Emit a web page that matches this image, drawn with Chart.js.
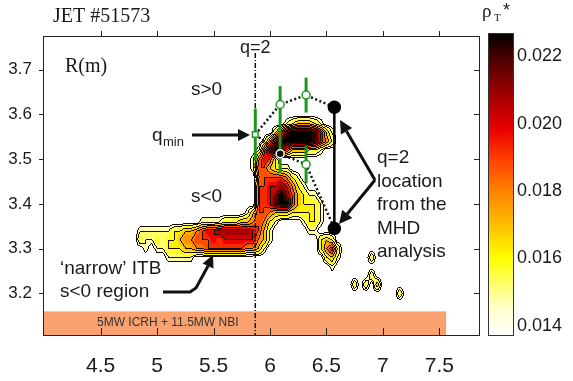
<!DOCTYPE html>
<html lang="en">
<head>
<meta charset="UTF-8">
<title>JET #51573 - rho_T*</title>
<script src="https://cdn.jsdelivr.net/npm/chart.js"></script>
<style>
  html, body { margin: 0; padding: 0; background: #ffffff; }
  #wrap { position: relative; width: 573px; height: 381px; }
</style>
</head>
<body>
<div id="wrap"><canvas id="rhoChart" width="573" height="381"></canvas></div>
<script>
// axis ticks
const xTicks = [4.5, 5, 5.5, 6, 6.5, 7, 7.5];
const yTicks = [3.2, 3.3, 3.4, 3.5, 3.6, 3.7];
const cbTicks = [0.014, 0.016, 0.018, 0.020, 0.022];

// rho_T* map.
// columns: t = 4.80 .. 7.20 step 0.05, rows: R = 3.60 .. 3.18 step -0.02
// each row = list of [first column, digits]; rho = 0.014 + 0.001 * digit
const tStart = 4.80, tStep = 0.05, rhoCols = 49;
const rStart = 3.60, rStep = 0.02;
const rhoBase = 0.014, rhoUnit = 0.001;
const rhoRows = [
  [],
  [[27, '1233321']],
  [[25, '25899998631']],
  [[23, '1489999998642']],
  [[22, '158975333221']],
  [[21, '14652']],
  [[21, '1553211']],
  [[22, '45555421']],
  [[22, '556676421']],
  [[22, '55679753211']],
  [[22, '556899532221']],
  [[20, '13554333222221']],
  [[12, '1111222334542100001221']],
  [[1, '111111223345667777776531'], [31, '11']],
  [[1, '211212234455565666666431'], [33, '232']],
  [[2, '1011222334455555554431'], [33, '2462']],
  [[6, '11111'], [34, '231'], [42, '2']],
  [[35, '1']],
  [[42, '2']],
  [[39, '202'], [43, '3']],
  [[47, '2']],
  []
];
// filled bands and drawn contour lines
const contourLevels = [0.0145, 0.0150, 0.0155, 0.0160, 0.0165, 0.0170, 0.0175, 0.0180, 0.0185,
                       0.0190, 0.0195, 0.0200, 0.0205, 0.0210, 0.0215, 0.0220, 0.0225];
const lineLevels = [0.0145, 0.015, 0.016, 0.017, 0.018, 0.019, 0.020, 0.021, 0.022];

// colour scale (value -> rgb)
const cmapVals = [0.0137, 0.0145, 0.0150, 0.0160, 0.0170, 0.0180, 0.0190, 0.0198, 0.0210, 0.0220, 0.0227];
const cmapRGB = [[255,255,255],[255,255,205],[255,255,140],[255,255,0],[255,190,0],[255,130,0],
                 [255,60,0],[235,0,0],[150,0,0],[70,0,0],[0,0,0]];
const cbMin = 0.0137, cbMax = 0.0226, cbTop = 0.0227;

// q profile (time, R)
const qTime = [5.87, 6.09, 6.32];
const qUpper = [3.555, 3.622, 3.643];
const qLower = [3.555, 3.512, 3.488];
const errTime = [5.87, 6.09, 6.32, 6.32];
const errLow = [3.497, 3.469, 3.604, 3.446];
const errHigh = [3.613, 3.663, 3.682, 3.529];
const mhdTime = 6.57;
const mhdR = [3.616, 3.345];
const q2Time = 5.87;
const q2Span = [3.737, 3.105];
const heatTime = [3.99, 7.56];
const heatR = [3.105, 3.16];

const rhoGrid = rhoRows.map(segs => {
  const row = new Array(rhoCols).fill(0);
  segs.forEach(([c, s]) => { for (let k = 0; k < s.length; k++) row[c + k] = +s[k]; });
  return row;
});

function rhoAt(t, r) {
  const gi = (t - tStart) / tStep, gj = (rStart - r) / rStep;
  if (gi < 0 || gj < 0 || gi > rhoCols - 1 || gj > rhoGrid.length - 1) return 0;
  const i0 = Math.min(Math.floor(gi), rhoCols - 2), j0 = Math.min(Math.floor(gj), rhoGrid.length - 2);
  const fi = gi - i0, fj = gj - j0;
  const a = rhoGrid[j0][i0], b = rhoGrid[j0][i0 + 1], c = rhoGrid[j0 + 1][i0], d = rhoGrid[j0 + 1][i0 + 1];
  return rhoBase + rhoUnit * ((a * (1 - fi) + b * fi) * (1 - fj) + (c * (1 - fi) + d * fi) * fj);
}

function cmap(v) {
  if (v <= cmapVals[0]) return cmapRGB[0];
  for (let k = 1; k < cmapVals.length; k++) {
    if (v <= cmapVals[k]) {
      const f = (v - cmapVals[k - 1]) / (cmapVals[k] - cmapVals[k - 1]);
      return cmapRGB[k - 1].map((c, n) => Math.round(c + (cmapRGB[k][n] - c) * f));
    }
  }
  return cmapRGB[cmapRGB.length - 1];
}

const bandRGB = [null].concat(contourLevels.map(l => cmap(l + 0.00025)));

function countBelow(levels, v) {
  let k = 0;
  while (k < levels.length && v >= levels[k]) k++;
  return k;
}

// filled contours + heating band, under the datasets
const contourPlugin = {
  id: 'contour',
  beforeDatasetsDraw(chart) {
    const { ctx, chartArea: a, scales: { x, y } } = chart;
    const left = Math.round(a.left), top = Math.round(a.top);
    const w = Math.round(a.right) - left, h = Math.round(a.bottom) - top;
    const lev = new Int8Array(w * h), line = new Int8Array(w * h);
    for (let py = 0; py < h; py++) {
      const r = y.getValueForPixel(top + py + 0.5);
      for (let px = 0; px < w; px++) {
        const v = rhoAt(x.getValueForPixel(left + px + 0.5), r);
        lev[py * w + px] = countBelow(contourLevels, v);
        line[py * w + px] = countBelow(lineLevels, v);
      }
    }
    const off = document.createElement('canvas');
    off.width = w; off.height = h;
    const octx = off.getContext('2d');
    const img = octx.createImageData(w, h);
    for (let py = 0; py < h; py++) {
      for (let px = 0; px < w; px++) {
        const n = py * w + px, k = lev[n], m = line[n];
        if (!k) continue;
        const edge = (px > 0 && line[n - 1] < m) || (px < w - 1 && line[n + 1] < m) ||
                     (py > 0 && line[n - w] < m) || (py < h - 1 && line[n + w] < m);
        const c = edge ? [20, 10, 0] : bandRGB[k];
        img.data[n * 4] = c[0]; img.data[n * 4 + 1] = c[1]; img.data[n * 4 + 2] = c[2]; img.data[n * 4 + 3] = 255;
      }
    }
    octx.putImageData(img, 0, 0);
    ctx.drawImage(off, left, top);

    // heating band
    const bx0 = x.getPixelForValue(heatTime[0]), bx1 = x.getPixelForValue(heatTime[1]);
    const by0 = y.getPixelForValue(heatR[1]), by1 = y.getPixelForValue(heatR[0]);
    ctx.save();
    ctx.fillStyle = '#faa26f';
    ctx.fillRect(bx0, by0, bx1 - bx0, by1 - by0);
    ctx.fillStyle = '#333';
    ctx.font = '12px "Liberation Sans", Arial, sans-serif';
    ctx.textBaseline = 'alphabetic';
    ctx.fillText('5MW ICRH + 11.5MW NBI', 97, 326);
    ctx.restore();
  }
};

function arrow(ctx, pts, head, half) {
  const n = pts.length;
  const [tx, ty] = pts[n - 1], [px, py] = pts[n - 2];
  const ang = Math.atan2(ty - py, tx - px);
  const bx = tx - head * Math.cos(ang), by = ty - head * Math.sin(ang);
  ctx.beginPath();
  ctx.moveTo(pts[0][0], pts[0][1]);
  for (let i = 1; i < n - 1; i++) ctx.lineTo(pts[i][0], pts[i][1]);
  ctx.lineTo(bx, by);
  ctx.stroke();
  ctx.beginPath();
  ctx.moveTo(tx, ty);
  ctx.lineTo(bx + half * Math.sin(ang), by - half * Math.cos(ang));
  ctx.lineTo(bx - half * Math.sin(ang), by + half * Math.cos(ang));
  ctx.closePath();
  ctx.fill();
}

// frame, tick marks, colour bar and annotations
const decorPlugin = {
  id: 'decor',
  afterDatasetsDraw(chart) {
    const { ctx, chartArea: a, scales: { x, y, cb } } = chart;
    ctx.save();
    ctx.strokeStyle = '#222';
    ctx.lineWidth = 1;
    ctx.strokeRect(Math.round(a.left) + 0.5, Math.round(a.top) + 0.5,
                   Math.round(a.right - a.left) - 1, Math.round(a.bottom - a.top) - 1);
    ctx.beginPath();
    xTicks.forEach(v => {
      const px = Math.round(x.getPixelForValue(v)) + 0.5;
      ctx.moveTo(px, a.bottom); ctx.lineTo(px, a.bottom - 8);
      ctx.moveTo(px, a.top); ctx.lineTo(px, a.top - 5);
    });
    yTicks.forEach(v => {
      const py = Math.round(y.getPixelForValue(v)) + 0.5;
      ctx.moveTo(a.left - 4, py); ctx.lineTo(a.left, py);
      ctx.moveTo(a.right - 6, py); ctx.lineTo(a.right, py);
    });
    ctx.stroke();

    // colour bar
    const cbLeft = a.right + 8, cbW = 26;
    const cbY0 = Math.round(cb.getPixelForValue(cbTop)), cbY1 = Math.round(cb.getPixelForValue(cbMin));
    for (let py = cbY0; py < cbY1; py++) {
      const c = cmap(cb.getValueForPixel(py + 0.5));
      ctx.fillStyle = 'rgb(' + c.join(',') + ')';
      ctx.fillRect(cbLeft, py, cbW, 1);
    }
    ctx.strokeStyle = '#333';
    ctx.strokeRect(cbLeft + 0.5, cbY0 + 0.5, cbW - 1, cbY1 - cbY0 - 1);

    // texts
    ctx.fillStyle = '#1a1a1a';
    ctx.textBaseline = 'alphabetic';
    const sans = '"Liberation Sans", Arial, sans-serif';
    const serif = '"Liberation Serif", "Times New Roman", serif';
    ctx.font = '20px ' + serif;
    ctx.fillText('JET #51573', 53, 21.5);
    ctx.fillText('R(m)', 65, 72);
    ctx.font = '19px ' + serif;
    ctx.fillText('\u03C1', 482, 17);
    ctx.font = '11px ' + serif;
    ctx.fillText('T', 494, 20.5);
    ctx.font = '18px ' + sans;
    ctx.fillText('*', 503, 16);

    ctx.font = '18px ' + sans;
    ctx.fillText('q=2', 240, 53);
    ctx.font = '19px ' + sans;
    ctx.fillText('s>0', 191, 95);
    ctx.fillText('s<0', 191, 201.5);
    ctx.fillText('q', 152, 141);
    ctx.font = '13px ' + sans;
    ctx.fillText('min', 163, 146);
    ctx.font = '19px ' + sans;
    ['q=2', 'location', 'from the', 'MHD', 'analysis'].forEach((s, i) => ctx.fillText(s, 377, 163 + i * 23.5));
    ctx.fillText('\u2018narrow\u2019 ITB', 60, 273.5);
    ctx.fillText('s<0 region', 60, 296.5);

    // arrows
    ctx.strokeStyle = '#111';
    ctx.fillStyle = '#111';
    ctx.lineWidth = 3;
    arrow(ctx, [[192, 135], [250, 135]], 12, 6);
    arrow(ctx, [[375, 180], [340, 120]], 13, 6.5);
    arrow(ctx, [[375, 180], [339, 224]], 13, 6.5);
    arrow(ctx, [[163, 292], [190, 292], [196, 288], [208, 266], [213, 255]], 12, 6);
    ctx.restore();
  }
};

const datasets = [];
datasets.push({
  data: q2Span.map(r => ({ x: q2Time, y: r })),
  showLine: true, borderColor: '#111', borderWidth: 1.5, borderDash: [5, 2, 1, 2], pointRadius: 0
});
errTime.forEach((t, i) => datasets.push({
  data: [{ x: t, y: errLow[i] }, { x: t, y: errHigh[i] }],
  showLine: true, borderColor: '#1e961e', borderWidth: 3, pointRadius: 0
}));
const branchTime = qTime.concat([mhdTime]);
[qUpper, qLower].forEach((branch, b) => datasets.push({
  data: branch.concat([mhdR[b]]).map((r, i) => ({ x: branchTime[i], y: r })),
  showLine: true, borderColor: '#111', borderWidth: 2.5, borderDash: [2, 2.5], pointRadius: 0
}));
datasets.push({
  data: mhdR.map(r => ({ x: mhdTime, y: r })),
  showLine: true, borderColor: '#000', borderWidth: 2.5,
  pointRadius: 5.5, pointBackgroundColor: '#000', pointBorderColor: '#000'
});
datasets.push({
  data: [
    { x: qTime[0], y: qUpper[0] }, { x: qTime[1], y: qUpper[1] }, { x: qTime[2], y: qUpper[2] },
    { x: qTime[1], y: qLower[1] }, { x: qTime[2], y: qLower[2] }
  ],
  pointStyle: ['rect', 'circle', 'circle', 'circle', 'circle'],
  pointRadius: 4,
  pointBackgroundColor: ['#fff', '#fff', '#fff', '#111', '#fff'],
  pointBorderColor: ['#1e961e', '#1e961e', '#1e961e', '#fff', '#1e961e'],
  pointBorderWidth: 1.5
});
datasets.forEach((d, i) => { d.order = -i; });

Chart.defaults.font.family = '"Liberation Sans", Arial, sans-serif';
Chart.defaults.color = '#1a1a1a';

new Chart(document.getElementById('rhoChart'), {
  type: 'scatter',
  data: { datasets },
  options: {
    responsive: false,
    animation: false,
    layout: { padding: { top: 36 } },
    plugins: { legend: { display: false }, tooltip: { enabled: false } },
    scales: {
      x: {
        type: 'linear', position: 'bottom', min: 3.99, max: 7.86,
        afterBuildTicks: s => { s.ticks = xTicks.map(v => ({ value: v })); },
        afterFit: s => { s.height = 45; },
        grid: { display: false, drawTicks: false },
        border: { display: false },
        ticks: { font: { size: 21 }, padding: 18, maxRotation: 0, callback: v => String(v) }
      },
      y: {
        type: 'linear', position: 'left', min: 3.105, max: 3.775,
        afterBuildTicks: s => { s.ticks = yTicks.map(v => ({ value: v })); },
        afterFit: s => { s.width = 43; },
        grid: { display: false, drawTicks: false },
        border: { display: false },
        ticks: { font: { size: 17 }, padding: 11, callback: v => v.toFixed(1) }
      },
      cb: {
        type: 'linear', position: 'right', min: cbMin, max: cbMax,
        afterBuildTicks: s => { s.ticks = cbTicks.map(v => ({ value: v })); },
        afterFit: s => { s.width = 93; },
        grid: { display: false, drawTicks: true, tickLength: 34 },
        border: { display: false },
        ticks: { font: { size: 18 }, padding: 3, callback: v => v.toFixed(3) }
      }
    }
  },
  plugins: [contourPlugin, decorPlugin]
});
</script>
</body>
</html>
